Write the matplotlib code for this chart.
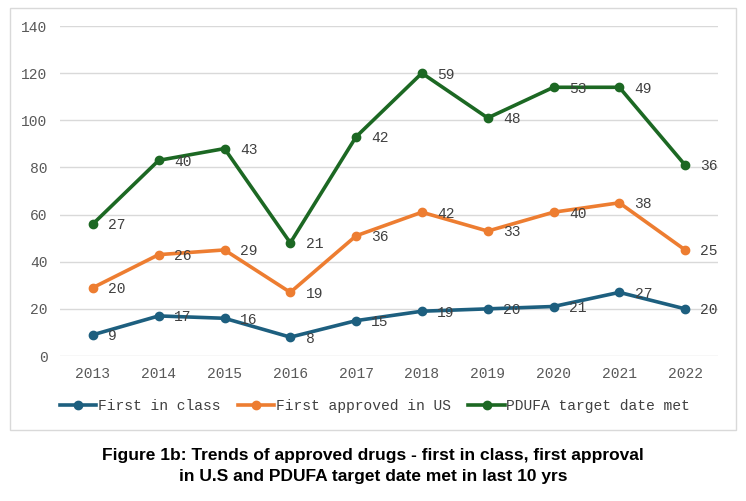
import numpy as np
import matplotlib.pyplot as plt
from matplotlib.patches import Rectangle

years = ["2013", "2014", "2015", "2016", "2017", "2018", "2019", "2020", "2021", "2022"]
first_in_class = [9, 17, 16, 8, 15, 19, 20, 21, 27, 20]
first_approved_us = [20, 26, 29, 19, 36, 42, 33, 40, 38, 25]
pdufa_met = [27, 40, 43, 21, 42, 59, 48, 53, 49, 36]

series_names = ["First in class", "First approved in US", "PDUFA target date met"]
colors = ["#1D5F7F", "#ED7D31", "#1C6823"]

mono = ["Liberation Mono", "DejaVu Sans Mono"]


def main():
    fig = plt.figure(figsize=(7.46, 5.01), dpi=100)
    W, H = 746, 501

    # chart frame
    fig.patches.append(Rectangle((10 / W, 1 - 430 / H), 726 / W, 422 / H,
                                 transform=fig.transFigure, fill=False,
                                 edgecolor="#D9D9D9", lw=1))

    ax = fig.add_axes([60 / W, 1 - 356 / H, 658 / W, 330 / H])
    x = np.arange(len(years))

    # stacked lines: each series sits on top of the previous ones
    data = [first_in_class, first_approved_us, pdufa_met]
    stacked = np.cumsum(np.array(data), axis=0)

    handles = []
    for vals, top, col, name in zip(data, stacked, colors, series_names):
        h, = ax.plot(x, top, color=col, lw=2.6, marker="o", ms=6,
                     solid_joinstyle="round", label=name, zorder=3)
        handles.append(h)
        for xi, yi, v in zip(x, top, vals):
            ax.annotate(str(v), (xi, yi), xytext=(11, -1), textcoords="offset points",
                        ha="left", va="center", fontsize=10.5, family=mono,
                        color="#404040", zorder=4)

    ax.set_xlim(-0.5, len(years) - 0.5)
    ax.set_ylim(0, 140)
    ax.set_yticks(range(0, 141, 20))
    ax.set_xticks(x)
    ax.set_xticklabels(years)
    ax.grid(axis="y", color="#D9D9D9", lw=1)
    ax.set_axisbelow(True)
    for s in ax.spines.values():
        s.set_visible(False)
    ax.tick_params(length=0, labelsize=10.5, colors="#595959", pad=8)
    ax.tick_params(axis="y", pad=9)
    for lab in ax.get_xticklabels() + ax.get_yticklabels():
        lab.set_family(mono)

    fig.legend(handles=handles, loc="center", bbox_to_anchor=(375 / W, 1 - 406 / H),
               ncol=3, frameon=False, handlelength=2.5, handletextpad=0.1,
               columnspacing=1.2, prop={"family": mono, "size": 10.5},
               labelcolor="#404040")

    fig.text(373 / W, 1 - 466 / H,
             "Figure 1b: Trends of approved drugs - first in class, first approval\n"
             "in U.S and PDUFA target date met in last 10 yrs",
             ha="center", va="center", fontsize=12.5, fontweight="bold",
             family=["Liberation Sans Narrow", "Liberation Sans", "DejaVu Sans"],
             linespacing=1.45)

    fig.savefig("out.png", dpi=100)


if __name__ == "__main__":
    main()
